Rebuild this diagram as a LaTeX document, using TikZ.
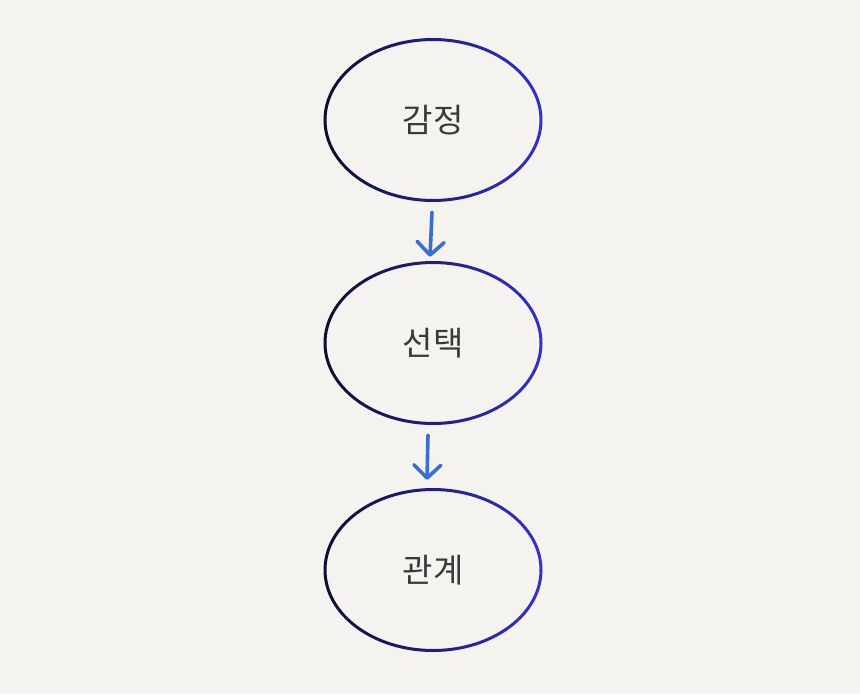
\documentclass[tikz,border=0pt]{standalone}
\usepackage{fontspec}
\newfontfamily\kofont{Noto Sans CJK KR}
\usetikzlibrary{arrows.meta,shapes.geometric}

\definecolor{paper}{HTML}{F4F3EF}
\definecolor{inkdark}{HTML}{0F0E2C}
\definecolor{inkblue}{HTML}{3431CA}
\definecolor{arrowblue}{HTML}{3A6FD2}
\definecolor{textgray}{HTML}{3A3A3A}

\tikzset{
    bubble/.style={ellipse, minimum width=216pt, minimum height=162pt, inner sep=0pt,
        font=\kofont\fontsize{33}{40}\selectfont, text=textgray},
    flow/.style={draw=arrowblue, line width=3.6pt, line cap=round,
        -{Straight Barb[length=13pt, width=27pt, line cap=round, line join=round]}}
}

\begin{document}
\begin{tikzpicture}[x=1pt, y=-1pt]
    \fill[paper] (0,0) rectangle (860,694);
    \useasboundingbox (0,0) rectangle (860,694);
    \node[bubble] (emotion) at (433,120) {감정};
    \node[bubble] (choice) at (433,343) {선택};
    \node[bubble] (relation) at (433,570) {관계};
    % outline, dark on the left and blue on the right
    \foreach \n in {emotion, choice, relation}
        \shade[left color=inkdark, right color=inkblue, even odd rule]
            (\n.center) ellipse [x radius=109.5, y radius=82] (\n.center) ellipse [x radius=106.5, y radius=79];
    \draw[flow] ([shift={(-1,11)}]emotion.south) -- ([shift={(-3,-5)}]choice.north);
    \draw[flow] ([shift={(-5,11)}]choice.south) -- ([shift={(-6,-9)}]relation.north);
\end{tikzpicture}
\end{document}
